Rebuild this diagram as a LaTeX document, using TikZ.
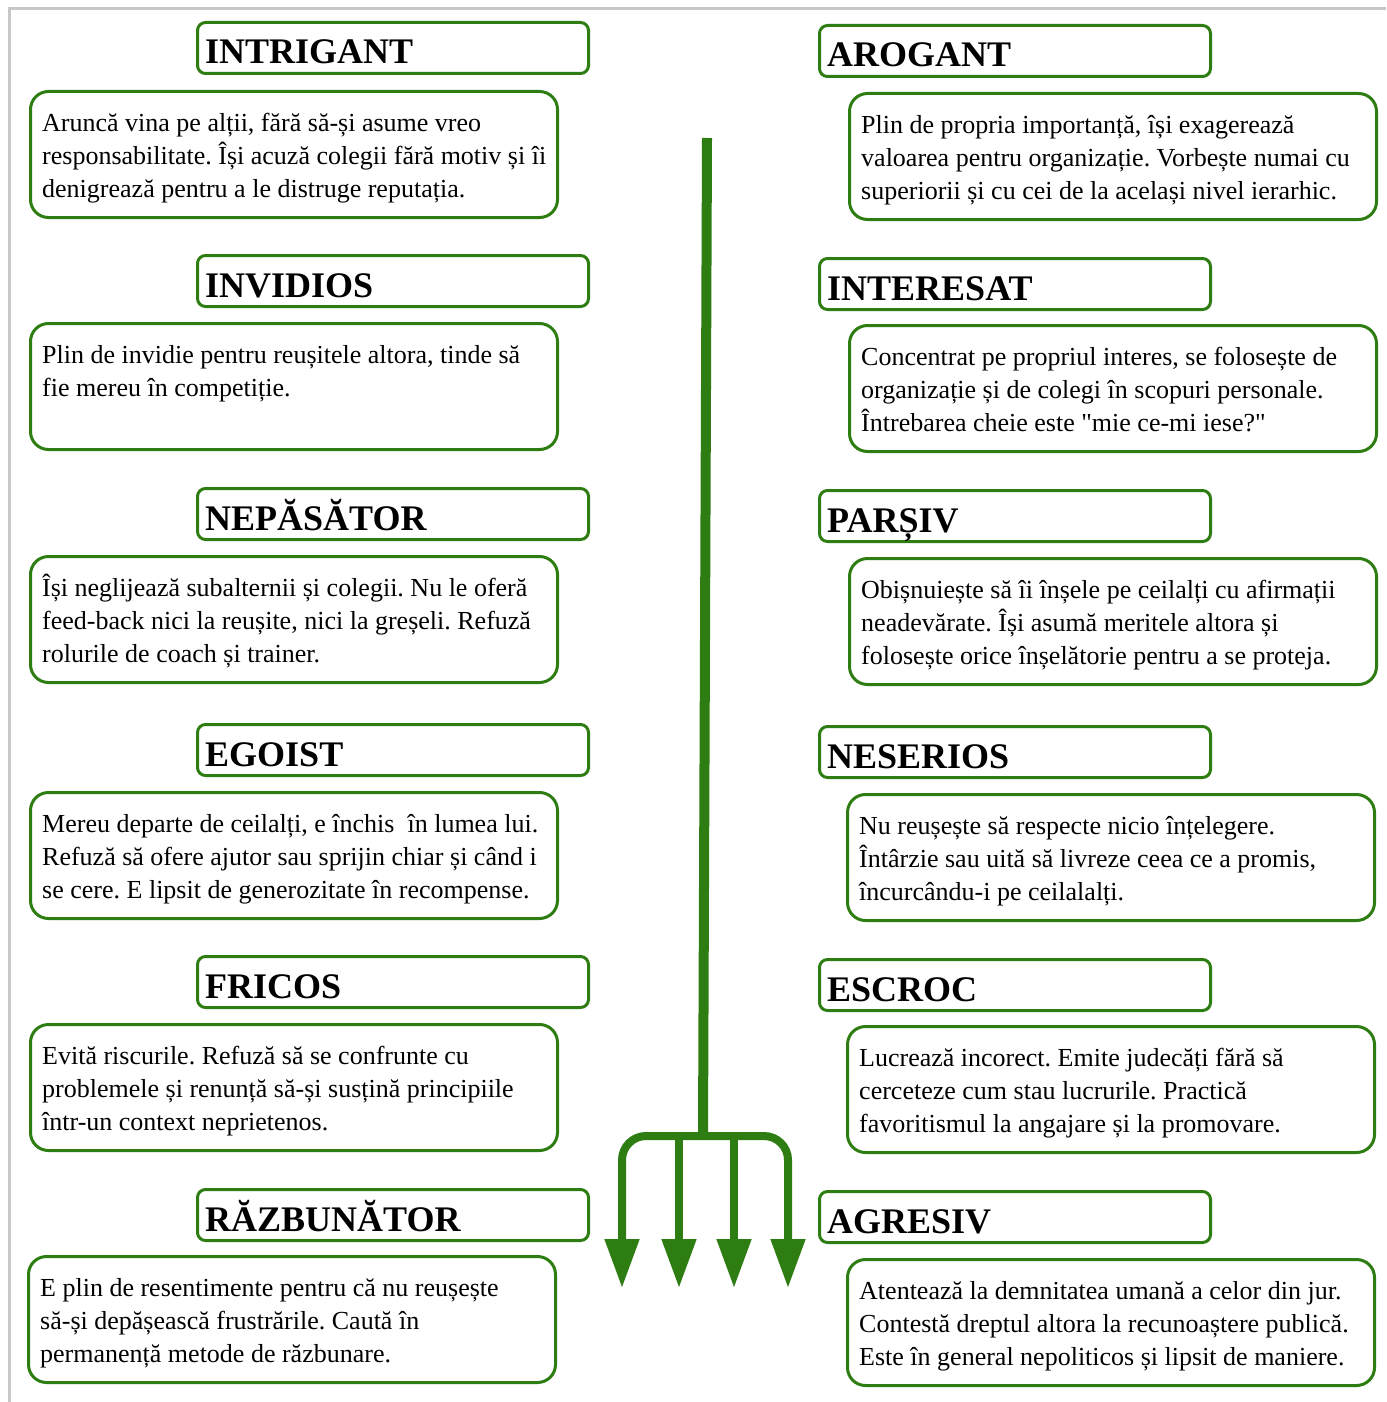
\documentclass[tikz,border=0pt]{standalone}
\usepackage{fontspec}
\setmainfont{Liberation Serif}[Ligatures=TeXOff]
\usetikzlibrary{arrows.meta}
\frenchspacing
\definecolor{fgreen}{RGB}{46,125,18}
\definecolor{fgray}{RGB}{200,200,200}
\tikzset{
  titlebox/.style={draw=fgreen, line width=3pt, rounded corners=8pt, minimum width=391pt, minimum height=51pt, inner sep=0pt, outer sep=0pt, anchor=north west},
  textbox/.style={draw=fgreen, line width=3pt, rounded corners=18pt, minimum width=527pt, minimum height=126pt, inner sep=0pt, outer sep=0pt, anchor=north west},
  titletext/.style={font=\fontsize{36}{40}\selectfont\bfseries, inner sep=0pt, anchor=base west},
  bodytext/.style={font=\fontsize{26}{33}\selectfont, align=left, inner sep=0pt, anchor=north west},
  prong/.style={draw=fgreen, line width=8pt, -{Triangle[width=33pt,length=49pt]}},
  frameline/.style={draw=fgray, line width=3pt},
}
\newcommand{\tpair}[8]{%
  \node[titlebox] (#1-title) at (#2+1.5,#3+1.5) {};
  \node[titletext] (#1-label) at (#2+9,#3+43) {#7};
  \node[textbox] (#1-box) at (#4+1.5,#5+1.5) {};
  \node[bodytext] (#1-text) at (#4+13,#5+41-23.1) {\strut #8};
}
\begin{document}
\begin{tikzpicture}[x=1pt,y=-1pt]
\useasboundingbox (0,0) rectangle (1386,1402);
\draw[frameline] (1386,9) -- (9.5,9) -- (9.5,1402);
% left column
\tpair{intrigant}{196}{21}{29}{90}{}{INTRIGANT}{Aruncă vina pe alții, fără să-și asume vreo\\responsabilitate. Își acuză colegii fără motiv și îi\\denigrează pentru a le distruge reputația.}
\tpair{invidios}{196}{254}{29}{322}{}{INVIDIOS}{Plin de invidie pentru reușitele altora, tinde să\\fie mereu în competiție.}
\tpair{nepasator}{196}{487}{29}{555}{}{NEPĂSĂTOR}{Își neglijează subalternii și colegii. Nu le oferă\\feed-back nici la reușite, nici la greșeli. Refuză\\rolurile de coach și trainer.}
\tpair{egoist}{196}{723}{29}{791}{}{EGOIST}{Mereu departe de ceilalți, e închis~ în lumea lui.\\Refuză să ofere ajutor sau sprijin chiar și când i\\se cere. E lipsit de generozitate în recompense.}
\tpair{fricos}{196}{955}{29}{1023}{}{FRICOS}{Evită riscurile. Refuză să se confrunte cu\\problemele și renunță să-și susțină principiile\\într-un context neprietenos.}
\tpair{razbunator}{196}{1188}{27}{1255}{}{RĂZBUNĂTOR}{E plin de resentimente pentru că nu reușește\\să-și depășească frustrările. Caută în\\permanență metode de răzbunare.}
% right column
\tpair{arogant}{818}{24}{848}{92}{}{AROGANT}{Plin de propria importanță, își exagerează\\valoarea pentru organizație. Vorbește numai cu\\superiorii și cu cei de la același nivel ierarhic.}
\tpair{interesat}{818}{257}{848}{324}{}{INTERESAT}{Concentrat pe propriul interes, se folosește de\\organizație și de colegi în scopuri personale.\\Întrebarea cheie este "mie ce-mi iese?"}
\tpair{parsiv}{818}{489}{848}{557}{}{PARȘIV}{Obișnuiește să îi înșele pe ceilalți cu afirmații\\neadevărate. Își asumă meritele altora și\\folosește orice înșelătorie pentru a se proteja.}
\tpair{neserios}{818}{725}{846}{793}{}{NESERIOS}{Nu reușește să respecte nicio înțelegere.\\Întârzie sau uită să livreze ceea ce a promis,\\încurcându-i pe ceilalalți.}
\tpair{escroc}{818}{958}{846}{1025}{}{ESCROC}{Lucrează incorect. Emite judecăți fără să\\cerceteze cum stau lucrurile. Practică\\favoritismul la angajare și la promovare.}
\tpair{agresiv}{818}{1190}{846}{1258}{}{AGRESIV}{Atentează la demnitatea umană a celor din jur.\\Contestă dreptul altora la recunoaștere publică.\\Este în general nepoliticos și lipsit de maniere.}
% fork
\coordinate (trunktop) at (707,138);
\coordinate (fork) at (703,1136);
\coordinate (tipA) at (622,1288);
\coordinate (tipB) at (679,1288);
\coordinate (tipC) at (734,1288);
\coordinate (tipD) at (788,1288);
\draw[draw=fgreen, line width=10pt] (trunktop) -- (fork);
\draw[prong, rounded corners=24pt] (fork) -| (tipA);
\draw[prong, rounded corners=24pt] (fork) -| (tipD);
\draw[prong] (tipB |- fork) -- (tipB);
\draw[prong] (tipC |- fork) -- (tipC);
\end{tikzpicture}
\end{document}
